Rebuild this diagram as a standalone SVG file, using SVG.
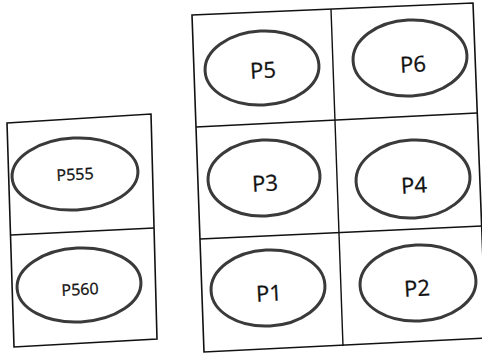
<svg xmlns="http://www.w3.org/2000/svg" width="482" height="354" viewBox="0 0 482 354">
<style>
.box{fill:none;stroke:#111;stroke-width:1.6;stroke-linejoin:miter}
.cell{fill:none;stroke:#111;stroke-width:1.4}
.ov{fill:#fff;stroke:#3a3a3a;stroke-width:3}
.t{font-family:"Open Sans","Liberation Sans",sans-serif;fill:#111;text-anchor:middle;stroke:#111;stroke-width:0.3}
.big{font-size:22px}
.small{font-size:16px}
</style>
<rect width="482" height="354" fill="#fff"/>
<g id="frames">
<polygon class="box" points="7,123 151,114 157,339 14,347"/>
<line class="cell" x1="11" y1="235" x2="154" y2="228"/>
<polygon class="box" points="192,15 473,3 486,338 204,352"/>
<line class="cell" x1="331" y1="9" x2="343" y2="346"/>
<line class="cell" x1="196" y1="127" x2="477" y2="113"/>
<line class="cell" x1="200" y1="239" x2="482" y2="226"/>
</g>
<g id="P555"><ellipse class="ov" cx="75" cy="174" rx="63" ry="36" transform="rotate(-3 75 174)"/><text class="t small" x="75" y="180" transform="rotate(-3 75 174)">P555</text></g>
<g id="P560"><ellipse class="ov" cx="79" cy="285" rx="62" ry="37" transform="rotate(-3 79 285)"/><text class="t small" x="80" y="295" transform="rotate(-3 80 289)">P560</text></g>
<g id="P5"><ellipse class="ov" cx="262" cy="68" rx="57" ry="37" transform="rotate(-3 262 68)"/><text class="t big" x="263" y="78" transform="rotate(-3 263 71)">P5</text></g>
<g id="P6"><ellipse class="ov" cx="410" cy="58" rx="57" ry="38" transform="rotate(-3 410 58)"/><text class="t big" x="413" y="72" transform="rotate(-3 413 65)">P6</text></g>
<g id="P3"><ellipse class="ov" cx="264" cy="178" rx="56" ry="38" transform="rotate(-3 264 178)"/><text class="t big" x="265" y="191" transform="rotate(-3 265 184)">P3</text></g>
<g id="P4"><ellipse class="ov" cx="413" cy="179" rx="57" ry="39" transform="rotate(-3 413 179)"/><text class="t big" x="414" y="193" transform="rotate(-3 414 186)">P4</text></g>
<g id="P1"><ellipse class="ov" cx="268" cy="288" rx="57" ry="38" transform="rotate(-3 268 288)"/><text class="t big" x="269" y="301" transform="rotate(-3 269 294)">P1</text></g>
<g id="P2"><ellipse class="ov" cx="418" cy="283" rx="58" ry="38" transform="rotate(-3 418 283)"/><text class="t big" x="417" y="296" transform="rotate(-3 417 289)">P2</text></g>
<g id="connectors"></g>
</svg>
